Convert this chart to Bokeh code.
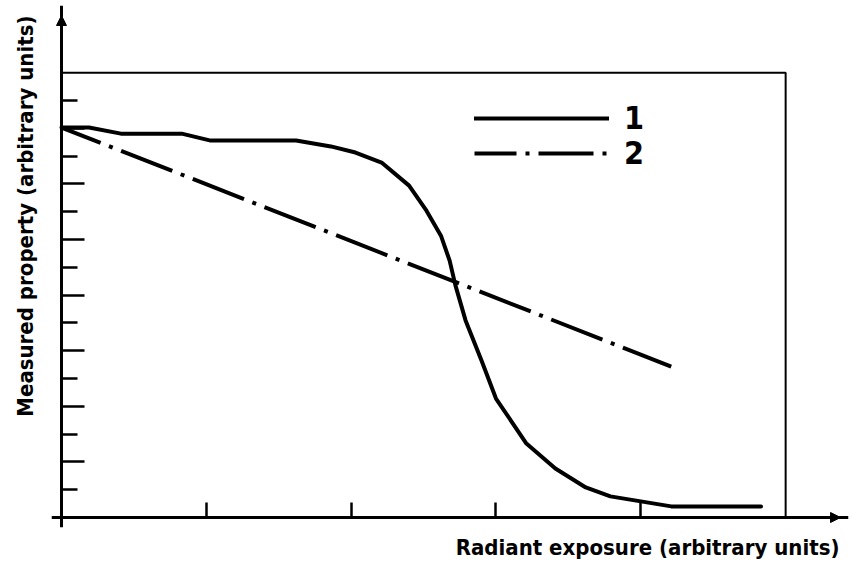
from bokeh.plotting import figure
from bokeh.models import (Range1d, FixedTicker, Arrow, NormalHead, Title,
                          Legend, LegendItem, LinearAxis)
from bokeh.embed import file_html
from bokeh.resources import INLINE

# ---- data (arbitrary units) ----
curve1_x = [0.0, 0.19, 0.41, 0.83, 1.03, 1.62, 1.86, 2.03, 2.21, 2.40, 2.52,
            2.62, 2.68, 2.72, 2.79, 2.90, 3.00, 3.21, 3.41, 3.62, 3.79, 4.00,
            4.21, 4.83]
curve1_y = [14.03, 14.03, 13.81, 13.81, 13.56, 13.56, 13.35, 13.13, 12.77,
            11.94, 11.04, 10.14, 9.24, 8.35, 7.09, 5.65, 4.28, 2.66, 1.76,
            1.08, 0.76, 0.58, 0.40, 0.40]
curve2_x = [0.0, 4.21]
curve2_y = [14.03, 5.43]
x_ticks = [1, 2, 3, 4]
y_major_ticks = [2, 4, 6, 8, 10, 12, 14]
y_minor_ticks = [1, 3, 5, 7, 9, 11, 13, 15]
series_labels = ["1", "2"]
x_label = "Radiant exposure (arbitrary units)"
y_label = "Measured property (arbitrary units)"

FONT = "DejaVu Sans Condensed"

p = figure(width=850, height=565, output_backend="svg", toolbar_location=None,
           x_range=Range1d(-0.069, 5.434), y_range=Range1d(-0.36, 18.42),
           x_axis_location=None, y_axis_location=None,
           min_border_left=50, min_border_bottom=38, min_border_top=5,
           min_border_right=2)
p.outline_line_color = None
p.grid.visible = False
p.background_fill_color = "white"

xaxis = LinearAxis(fixed_location=0, ticker=FixedTicker(ticks=x_ticks))
yaxis = LinearAxis(fixed_location=0,
                   ticker=FixedTicker(ticks=y_major_ticks, minor_ticks=y_minor_ticks))
for ax, ticks in ((xaxis, x_ticks), (yaxis, y_major_ticks)):
    ax.axis_line_width = 3
    ax.axis_line_color = "black"
    ax.major_tick_out = 0
    ax.minor_tick_out = 0
    ax.major_tick_line_width = 2.5
    ax.minor_tick_line_width = 2.5
    ax.major_label_overrides = {t: "" for t in ticks}
    ax.major_label_standoff = 0
xaxis.major_tick_in = 15
xaxis.minor_tick_line_color = None
yaxis.major_tick_in = 23
yaxis.minor_tick_in = 16
p.add_layout(xaxis, "below")
p.add_layout(yaxis, "left")

# frame box (top and right)
p.line([0, 5, 5], [16, 16, 0], line_color="black", line_width=2)

r1 = p.line(curve1_x, curve1_y, line_color="black", line_width=4,
            line_join="round", line_cap="round")
r2 = p.line(curve2_x, curve2_y, line_color="black", line_width=4,
            line_dash="55 9 4 9", line_dash_offset=13)

legend_style = dict(glyph_width=135, glyph_height=30, label_height=30,
                    padding=0, margin=0, label_standoff=15,
                    border_line_color=None, background_fill_alpha=0,
                    label_text_font=FONT, label_text_color="black",
                    label_text_font_style="bold", label_text_font_size="32px",
                    label_text_baseline="middle")
for renderer, label, loc in ((r1, series_labels[0], (423, 390)),
                             (r2, series_labels[1], (423, 355))):
    p.add_layout(Legend(items=[LegendItem(label=label, renderers=[renderer])],
                        location=loc, **legend_style), "center")

# axis arrows
p.add_layout(Arrow(end=NormalHead(size=10, fill_color="black", line_color="black"),
                   x_start=0, y_start=17, x_end=0, y_end=18.06,
                   line_width=3, line_color="black"))
p.add_layout(Arrow(end=NormalHead(size=10, fill_color="black", line_color="black"),
                   x_start=5.2, y_start=0, x_end=5.379, y_end=0,
                   line_width=3, line_color="black"))

# axis labels
p.add_layout(Title(text=x_label, align="right", offset=9, standoff=10,
                   text_font=FONT, text_font_style="bold",
                   text_font_size="22px", text_color="black"), "below")
p.add_layout(Title(text=y_label, align="right", offset=10, standoff=24,
                   vertical_align="top",
                   text_font=FONT, text_font_style="bold",
                   text_font_size="22px", text_color="black"), "left")

open("out.html", "w").write(file_html(p, INLINE))
